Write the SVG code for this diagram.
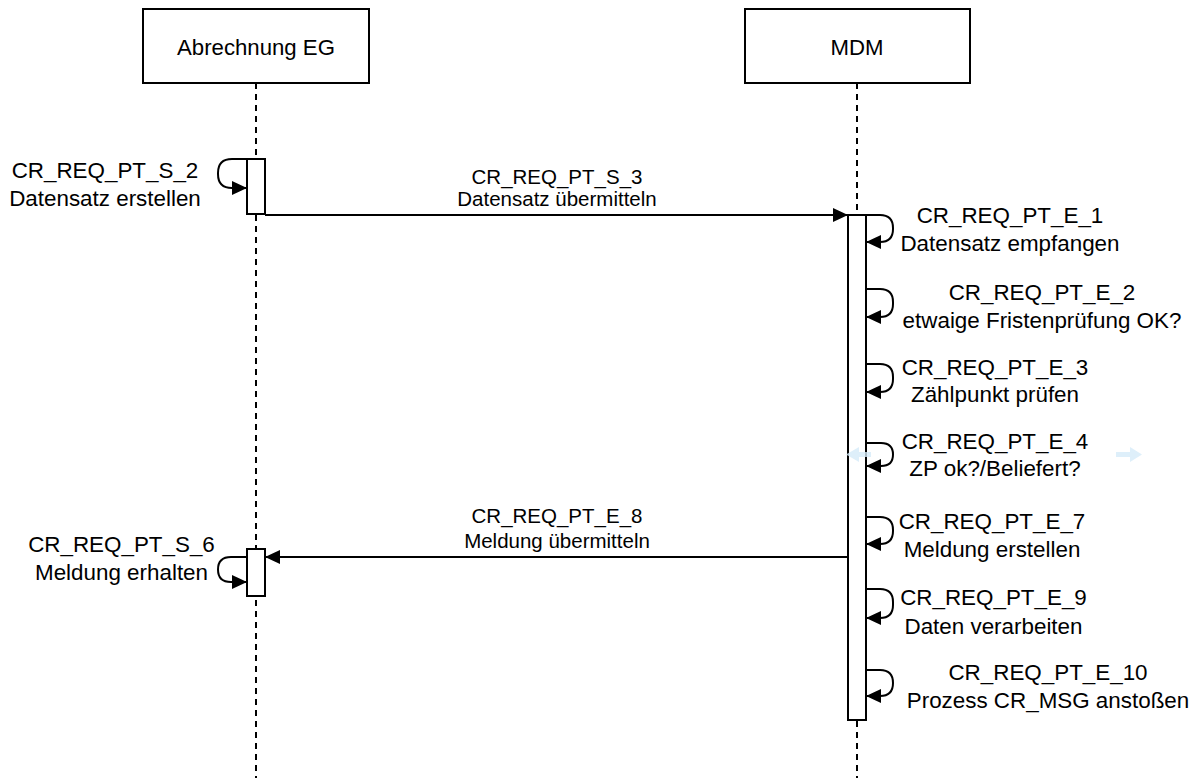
<svg xmlns="http://www.w3.org/2000/svg" width="1199" height="778" viewBox="0 0 1199 778">
<defs>
<style>
.box{fill:#fff;stroke:#000;stroke-width:2}
.life{stroke:#000;stroke-width:2;stroke-dasharray:6 5;fill:none}
.act{fill:#fff;stroke:#000;stroke-width:2}
.msg{fill:none;stroke:#000;stroke-width:2;marker-end:url(#arr)}
.hdr{font-family:"Liberation Sans",Arial,sans-serif;font-size:22.2px;fill:#000;text-anchor:middle}
.lbl{font-family:"Liberation Sans",Arial,sans-serif;font-size:22.4px;fill:#000;text-anchor:middle}
.mlbl{font-family:"Liberation Sans",Arial,sans-serif;font-size:20.5px;fill:#000;text-anchor:middle}
.ghost{fill:#d6ebf9;opacity:0.8}
</style>
<marker id="arr" markerUnits="userSpaceOnUse" markerWidth="16" markerHeight="14" refX="15" refY="7" orient="auto">
<path d="M0,0 L15,7 L0,14 z" fill="#000"/>
</marker>
</defs>
<rect width="1199" height="778" fill="#fff"/>

<g id="lifeline-abrechnung">
<line class="life" x1="256" y1="83" x2="256" y2="778"/>
<rect class="box" x="143" y="9" width="226" height="74"/>
<text class="hdr" x="256" y="55">Abrechnung EG</text>
</g>

<g id="lifeline-mdm">
<line class="life" x1="857" y1="83" x2="857" y2="778"/>
<rect class="box" x="745" y="9" width="225" height="74"/>
<text class="hdr" x="857" y="55">MDM</text>
</g>

<g id="activation-eg-1"><rect class="act" x="247" y="159" width="18" height="55"/></g>
<g id="activation-eg-2"><rect class="act" x="247" y="549" width="18" height="47"/></g>
<g id="activation-mdm"><rect class="act" x="848" y="215" width="18" height="505"/></g>

<g id="connectors">
<path class="msg" d="M247,159 H232 Q218,159 218,173 V174 Q218,188 232,188 H247"/>
<path class="msg" d="M265,215 H848"/>
<path class="msg" d="M866,215 H880 Q893,215 893,228 V229 Q893,242 880,242 H866"/>
<path class="msg" d="M866,289 H880 Q893,289 893,302 V304 Q893,317 880,317 H866"/>
<path class="msg" d="M866,364 H880 Q893,364 893,377 V379 Q893,392 880,392 H866"/>
<path class="msg" d="M866,443 H881 Q893,443 893,454.5 Q893,466 881,466 H866"/>
<path class="msg" d="M866,517 H880 Q893,517 893,530 V531 Q893,544 880,544 H866"/>
<path class="msg" d="M848,557 H265"/>
<path class="msg" d="M247,557 H231 Q218,557 218,569.5 Q218,582 231,582 H247"/>
<path class="msg" d="M866,589 H880 Q893,589 893,602 V605 Q893,618 880,618 H866"/>
<path class="msg" d="M866,670 H880 Q893,670 893,683 Q893,696 880,696 H866"/>
</g>

<g id="labels">
<text class="lbl" x="105" y="178">CR_REQ_PT_S_2</text>
<text class="lbl" x="105" y="206">Datensatz erstellen</text>
<text class="mlbl" x="557" y="184">CR_REQ_PT_S_3</text>
<text class="mlbl" x="557" y="206">Datensatz übermitteln</text>
<text class="lbl" x="1010" y="223">CR_REQ_PT_E_1</text>
<text class="lbl" x="1010" y="251">Datensatz empfangen</text>
<text class="lbl" x="1042" y="300">CR_REQ_PT_E_2</text>
<text class="lbl" x="1042" y="328">etwaige Fristenprüfung OK?</text>
<text class="lbl" x="995" y="375">CR_REQ_PT_E_3</text>
<text class="lbl" x="995" y="402">Zählpunkt prüfen</text>
<text class="lbl" x="995" y="449">CR_REQ_PT_E_4</text>
<text class="lbl" x="995" y="476">ZP ok?/Beliefert?</text>
<text class="mlbl" x="557" y="523">CR_REQ_PT_E_8</text>
<text class="mlbl" x="557" y="548">Meldung übermitteln</text>
<text class="lbl" x="992" y="529">CR_REQ_PT_E_7</text>
<text class="lbl" x="992" y="557">Meldung erstellen</text>
<text class="lbl" x="121.5" y="552">CR_REQ_PT_S_6</text>
<text class="lbl" x="121.5" y="580">Meldung erhalten</text>
<text class="lbl" x="993.5" y="605">CR_REQ_PT_E_9</text>
<text class="lbl" x="993.5" y="634">Daten verarbeiten</text>
<text class="lbl" x="1048" y="680">CR_REQ_PT_E_10</text>
<text class="lbl" x="1048" y="708">Prozess CR_MSG anstoßen</text>
</g>

<g id="ghost-arrows">
<path class="ghost" d="M871,452 H859 V447 L846,454.5 L859,462 V457 H871 z"/>
<path class="ghost" d="M1116,452 H1130 V447 L1142,454.5 L1130,462 V457 H1116 z"/>
</g>
</svg>
